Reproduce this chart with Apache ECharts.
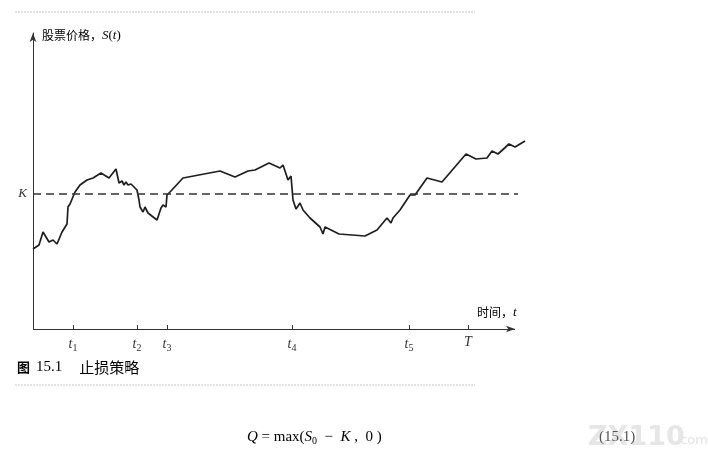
<!DOCTYPE html>
<html><head><meta charset="utf-8">
<script src="https://cdn.jsdelivr.net/npm/echarts@6/dist/echarts.min.js"></script>
<style>html,body{margin:0;padding:0;background:#fff;}#c{width:708px;height:458px;}</style>
</head><body><div id="c"></div>
<script>
// price path S(t): [time, price]
const pathX = [0,6,10,16,20,24,29,34,35,37,42,47,54,60,68,76,83,86,89,91,93,95,98,101,104,106,107,110,112,115,124,128,130,133,134,137,150,187,202,215,222,236,247,250,255,258,259,260,263,267,270,277,287,290,292,306,332,344,354,358,360,367,377,382,394,409,433,443,454,459,465,476,482,492];
const pathY = [80,84,97,87,89,85,97,105,122,125,137,144,149,151,156,151,160,146,148,144,147,144,145,142,139,129,122,117,122,116,109,121,124,122,134,137,151,158,152,158,159,166,161,164,149,153,151,129,120,126,119,111,102,95,102,95,93,99,111,106,111,119,134,134,151,147,175,170,171,178,175,185,182,188];
const K = 135;
const tickValues = [40,104,134,259,376,435];
const tickLabels = ['t1','t2','t3','t4','t5','T'];
const xAxisEnd = 482;
const kLineEnd = 485;

const data = pathX.map((x,i)=>[x,pathY[i]]);
const serif = 'Liberation Serif';
const chart = echarts.init(document.getElementById('c'));
chart.setOption({
  animation:false,
  grid:{left:33,top:33,width:492,height:296},
  xAxis:{type:'value',min:0,max:492,
    axisLine:{show:false},splitLine:{show:false},
    axisTick:{show:true,inside:true,length:4,lineStyle:{color:'#333',width:1},customValues:tickValues},
    axisLabel:{customValues:tickValues,margin:6,
      formatter:function(v){const i=tickValues.indexOf(v);const l=tickLabels[i]||'';
        if(l.length>1) return '{i|'+l[0]+'}{s|'+l.slice(1)+'}';
        return '{i|'+l+'}';},
      rich:{i:{fontFamily:serif,fontStyle:'italic',fontSize:14,color:'#333'},
            s:{fontFamily:serif,fontSize:10,color:'#333',padding:[8,0,0,0]}}}
  },
  yAxis:{type:'value',min:0,max:296,
    axisLine:{show:true,symbol:['none','arrow'],symbolSize:[5,9],lineStyle:{color:'#333',width:1}},
    splitLine:{show:false},axisTick:{show:false},
    axisLabel:{customValues:[K],formatter:function(){return 'K';},margin:6,
      fontFamily:serif,fontStyle:'italic',fontSize:13,color:'#333'}
  },
  series:[{type:'line',data:data,symbol:'none',lineStyle:{color:'#1e1e1e',width:1.7},z:3,
    markLine:{silent:true,animation:false,symbol:['none','none'],label:{show:false},
      data:[
        [{coord:[0,K],lineStyle:{type:[8,5],color:'#333',width:1.5}},{coord:[kLineEnd,K]}],
        [{coord:[0,0],symbol:'none',lineStyle:{type:'solid',color:'#333',width:1}},{coord:[xAxisEnd,0],symbol:'arrow',symbolSize:[5,9]}]
      ]}
  }],
  graphic:[
    {type:'line',shape:{x1:15,y1:12,x2:475,y2:12},style:{stroke:'#e2e2e2',lineWidth:2,lineDash:[2,1]}},
    {type:'text',left:42,top:29,style:{rich:{a:{fontFamily:'Noto Sans CJK SC',fontSize:12,color:'#333'},b:{fontFamily:serif,fontStyle:'italic',fontSize:13,color:'#333'},c:{fontFamily:serif,fontSize:13,color:'#333'}},text:'{a|股票价格，}{b|S}{c|(}{b|t}{c|)}'}},
    {type:'text',left:477,top:306,style:{rich:{a:{fontFamily:'Noto Sans CJK SC',fontSize:12,color:'#444'},b:{fontFamily:serif,fontStyle:'italic',fontSize:13,color:'#444'}},text:'{a|时间，}{b|t}'}},
    {type:'text',left:17,top:360,style:{rich:{a:{fontFamily:'Noto Sans CJK SC',fontWeight:'bold',fontSize:13,color:'#333'},b:{fontFamily:serif,fontSize:15,color:'#333',padding:[0,0,0,6]},c:{fontFamily:'Noto Sans CJK SC',fontSize:15,color:'#333',padding:[0,0,0,17]}},text:'{a|图}{b|15.1}{c|止损策略}'}},
    {type:'line',shape:{x1:15,y1:385,x2:475,y2:385},style:{stroke:'#e2e2e2',lineWidth:2,lineDash:[2,1]}},
    {type:'text',left:247,top:430,style:{rich:{i:{fontFamily:serif,fontStyle:'italic',fontSize:15,color:'#333'},r:{fontFamily:serif,fontSize:15,color:'#333'},s:{fontFamily:serif,fontSize:10,color:'#333',padding:[8,0,0,0]}},text:'{i|Q}{r| = max(}{i|S}{s|0}{r|  −  }{i|K}{r| ,  0 )}'}},
    {type:'text',left:588,top:424,style:{text:'ZX110',fontFamily:'DejaVu Sans',fontWeight:'bold',fontSize:27,fill:'#e6e6e6'}},
    {type:'text',left:676,top:434,style:{text:'.com',fontFamily:'DejaVu Sans',fontSize:13,fill:'#e3e3e3'}},
    {type:'text',left:599,top:430,style:{text:'(15.1)',fontFamily:serif,fontSize:15,fill:'#555'}}
  ]
});
</script></body></html>
